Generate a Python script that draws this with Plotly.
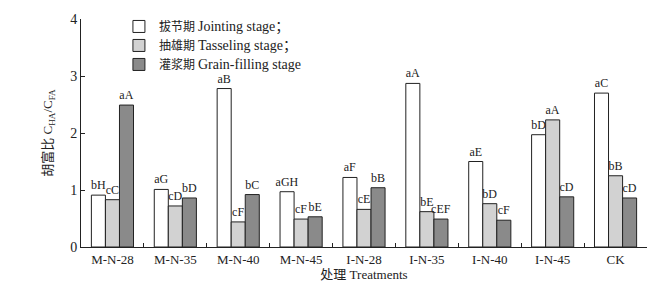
import plotly.graph_objects as go

categories = ["M-N-28", "M-N-35", "M-N-40", "M-N-45", "I-N-28", "I-N-35", "I-N-40", "I-N-45", "CK"]
jointing = [0.91, 1.01, 2.78, 0.97, 1.22, 2.87, 1.50, 1.97, 2.70]
tasseling = [0.83, 0.72, 0.44, 0.49, 0.66, 0.62, 0.76, 2.23, 1.25]
grainfill = [2.49, 0.86, 0.92, 0.53, 1.04, 0.49, 0.47, 0.88, 0.86]
jointing_lbl = ["bH", "aG", "aB", "aGH", "aF", "aA", "aE", "bD", "aC"]
tasseling_lbl = ["cC", "cD", "cF", "cF", "cE", "bE", "bD", "aA", "bB"]
grainfill_lbl = ["aA", "bD", "bC", "bE", "bB", "cEF", "cF", "cD", "cD"]
series_cn = ["拔节期", "抽雄期", "灌浆期"]
series_en = ["Jointing stage；", "Tasseling stage；", "Grain-filling stage"]
colors = ["#ffffff", "#d2d2d2", "#8a8a8a"]

FONT = "Liberation Serif, Times New Roman, Noto Sans CJK SC, serif"

fig = go.Figure()
for vals, lbl, cn, en, col in zip([jointing, tasseling, grainfill],
                                  [jointing_lbl, tasseling_lbl, grainfill_lbl],
                                  series_cn, series_en, colors):
    fig.add_trace(go.Bar(
        x=categories, y=vals,
        name=f'{cn} <span style="font-size:14px">{en}</span>',
        text=lbl,
        textposition="outside", constraintext="none", cliponaxis=False,
        textfont=dict(family=FONT, size=12, color="#222"),
        marker=dict(color=col, line=dict(color="#222", width=1)),
    ))

fig.update_layout(
    width=670, height=285,
    margin=dict(l=81, r=23, t=15, b=38),
    barmode="group", bargap=0.33, bargroupgap=0,
    plot_bgcolor="white", paper_bgcolor="white",
    font=dict(family=FONT, size=13, color="#222"),
    showlegend=True,
    legend=dict(x=0.067, y=0.737, xanchor="left", yanchor="bottom",
                font=dict(family=FONT, size=12, color="#222"),
                bgcolor="rgba(0,0,0,0)", tracegroupgap=0, itemwidth=30),
    xaxis=dict(
        automargin=False,
        showline=True, linecolor="#222", linewidth=1,
        ticks="inside", tickson="boundaries", ticklen=4, tickcolor="#222",
        tickfont=dict(family=FONT, size=13),
        title=dict(text="处理 Treatments", font=dict(family=FONT, size=13), standoff=2),
    ),
    yaxis=dict(
        automargin=False,
        range=[0, 4], dtick=1, showgrid=False, zeroline=False,
        showline=True, linecolor="#222", linewidth=1,
        ticks="inside", ticklen=4, tickcolor="#222",
        tickfont=dict(family=FONT, size=14),
        title=dict(text="胡富比 C<sub>HA</sub>/C<sub>FA</sub>", font=dict(family=FONT, size=13), standoff=14),
    ),
)

fig.write_html("out.html", config={"displayModeBar": False},
               post_script="document.body.style.margin='0';document.body.style.overflow='hidden';")
